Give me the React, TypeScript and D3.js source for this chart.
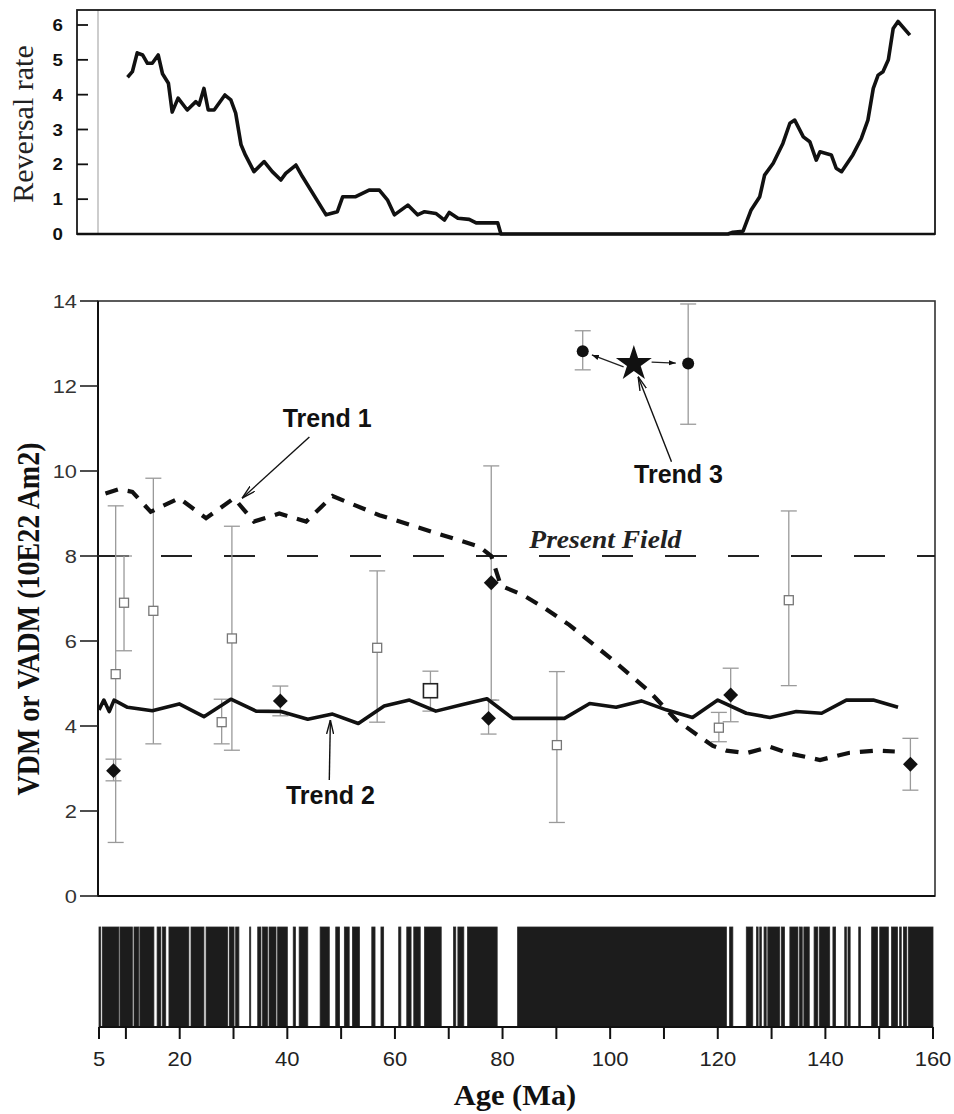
import React from 'react'
import * as d3 from 'd3'

// reversal rate (top panel)
const rateAge = [10.3, 11.2, 12.1, 13.1, 14.0, 14.9, 16.0, 16.8, 17.9, 18.6, 19.7, 21.4, 23.0, 23.6, 24.5, 25.3, 26.4, 28.4, 29.5, 30.4, 31.4, 32.2, 33.8, 35.7, 37.2, 38.8, 39.7, 41.6, 42.8, 47.2, 49.3, 50.3, 52.7, 55.2, 57.1, 58.6, 59.9, 62.4, 64.2, 65.5, 67.6, 69.2, 70.1, 71.7, 73.8, 75.1, 79.1, 79.7, 121.9, 122.8, 124.7, 126.2, 127.8, 128.7, 130.3, 132.1, 133.4, 134.3, 135.9, 137.1, 138.3, 139.0, 141.1, 142.0, 143.0, 145.1, 146.7, 147.9, 148.9, 149.8, 150.7, 151.7, 152.6, 153.5, 155.7]
const rateValue = [4.5, 4.66, 5.2, 5.14, 4.9, 4.9, 5.14, 4.6, 4.33, 3.5, 3.9, 3.56, 3.8, 3.7, 4.18, 3.56, 3.56, 3.99, 3.85, 3.47, 2.56, 2.27, 1.79, 2.08, 1.79, 1.55, 1.74, 1.98, 1.65, 0.55, 0.64, 1.07, 1.07, 1.26, 1.26, 0.98, 0.55, 0.83, 0.55, 0.64, 0.59, 0.4, 0.62, 0.45, 0.42, 0.32, 0.32, 0, 0, 0.05, 0.08, 0.69, 1.07, 1.69, 2.03, 2.6, 3.18, 3.27, 2.79, 2.65, 2.12, 2.36, 2.27, 1.89, 1.79, 2.27, 2.75, 3.27, 4.18, 4.56, 4.66, 5.0, 5.9, 6.1, 5.71]
const rateTicks = [0, 1, 2, 3, 4, 5, 6]

// trend 1 (dashed) and trend 2 (solid)
const trend1Age = [6.2, 8.7, 11.2, 14.6, 19.9, 24.9, 30.1, 33.8, 38.5, 43.5, 48.4, 57.1, 68.9, 75.7, 77.9, 79.7, 83.8, 87.5, 92.4, 100.5, 107.3, 112.3, 119.1, 121.6, 125.3, 129.7, 133.1, 139.0, 144.5, 149.5, 152.9]
const trend1Value = [9.47, 9.57, 9.51, 9.04, 9.36, 8.89, 9.36, 8.81, 9.0, 8.81, 9.41, 8.96, 8.49, 8.22, 8.0, 7.3, 7.08, 6.8, 6.38, 5.55, 4.81, 4.14, 3.53, 3.42, 3.36, 3.51, 3.36, 3.2, 3.37, 3.42, 3.4]
const trend2Age = [5.0, 5.9, 6.9, 7.8, 10.3, 14.9, 19.9, 24.5, 29.5, 34.2, 38.8, 43.8, 48.4, 53.2, 58.0, 62.7, 67.6, 72.4, 77.1, 81.9, 91.5, 96.2, 101.1, 105.8, 110.4, 115.3, 120.0, 125.3, 129.7, 134.6, 139.3, 143.9, 148.9, 153.5]
const trend2Value = [4.38, 4.61, 4.34, 4.61, 4.44, 4.36, 4.52, 4.22, 4.63, 4.35, 4.34, 4.16, 4.28, 4.06, 4.47, 4.61, 4.35, 4.5, 4.64, 4.18, 4.18, 4.53, 4.44, 4.59, 4.38, 4.2, 4.61, 4.3, 4.2, 4.34, 4.3, 4.61, 4.61, 4.44]

// open squares (gray)
const sqAge = [8.1, 9.65, 15.1, 27.8, 29.7, 56.7, 90.1, 120.2, 133.2]
const sqValue = [5.22, 6.9, 6.71, 4.09, 6.06, 5.84, 3.55, 3.96, 6.96]
const sqLow = [1.26, 5.77, 3.58, 3.58, 3.43, 4.09, 1.73, 3.63, 4.95]
const sqHigh = [9.18, 8.0, 9.83, 4.63, 8.7, 7.65, 5.28, 4.32, 9.06]

// filled diamonds
const dmAge = [7.7, 38.7, 77.4, 77.9, 122.4, 155.8]
const dmValue = [2.95, 4.59, 4.18, 7.37, 4.73, 3.1]
const dmLow = [2.71, 4.24, 3.81, 4.61, 4.1, 2.49]
const dmHigh = [3.22, 4.94, 4.61, 10.12, 5.36, 3.71]

// big open square
const bigSqAge = [66.6]
const bigSqValue = [4.83]
const bigSqLow = [4.35]
const bigSqHigh = [5.29]

// trend 3
const circAge = [94.9, 114.5]
const circValue = [12.82, 12.53]
const circLow = [12.38, 11.1]
const circHigh = [13.3, 13.93]
const starAge = 104.4
const starValue = 12.57

const presentField = 8
const vdmTicks = [0, 2, 4, 6, 8, 10, 12, 14]
const ageTicks = [5, 10, 20, 30, 40, 50, 60, 70, 80, 90, 100, 110, 120, 130, 140, 150, 160]
const ageLabels = [5, 20, 40, 60, 80, 100, 120, 140, 160]

// normal polarity intervals (Ma)
const normalStart = [5.0, 5.6, 8.9, 11.5, 12.6, 15.8, 16.8, 18.0, 22.1, 24.9, 29.2, 30.4, 33.0, 34.5, 35.4, 36.6, 38.2, 41.1, 42.2, 46.1, 49.0, 50.6, 52.1, 55.7, 57.4, 60.7, 62.2, 63.5, 65.5, 70.9, 71.7, 73.5, 82.8, 122.2, 125.3, 127.2, 127.8, 128.6, 129.3, 131.8, 133.4, 135.2, 136.0, 137.9, 138.9, 141.4, 143.6, 144.2, 146.2, 148.6, 150.1, 152.3, 153.8, 154.5, 155.4]
const normalEnd = [5.3, 8.7, 11.2, 12.4, 15.2, 16.5, 17.4, 21.7, 24.5, 28.9, 30.1, 31.0, 33.2, 35.1, 36.3, 37.9, 40.0, 41.5, 43.8, 47.8, 49.7, 51.5, 53.4, 56.3, 57.9, 61.1, 63.0, 64.7, 68.6, 71.3, 72.8, 79.0, 121.6, 122.8, 126.5, 127.5, 128.1, 129.0, 131.5, 132.4, 134.9, 135.7, 137.0, 138.6, 140.8, 141.9, 143.9, 144.6, 146.5, 149.7, 151.7, 153.4, 154.1, 155.1, 160.0]

// annotation arrows, in data units [age, value]
const trendLabels = ['Trend 1', 'Trend 2', 'Trend 3']
const trendLabelPos = [[47.4, 11.04], [48.0, 2.16], [112.7, 9.72]]
const trendArrowFrom = [[44.1, 10.8], [47.8, 2.73], [111.4, 10.22]]
const trendArrowTo = [[31.6, 9.36], [48.0, 4.14], [105.2, 12.22]]
const starArrowFrom = [[102.5, 12.45], [107.7, 12.56]]
const starArrowTo = [[96.6, 12.73], [112.2, 12.54]]

const SANS = '"Liberation Sans", Arial, sans-serif'
const SERIF = '"Liberation Serif", "Times New Roman", serif'

function T({ x, y, sx = 1, rot = 0, children, ...rest }: any) {
  return (
    <text transform={`translate(${x},${y}) scale(${sx},1) rotate(${rot})`} {...rest}>
      {children}
    </text>
  )
}

export default function App() {
  const x = d3.scaleLinear().domain([5, 160]).range([99, 933])
  const y = d3.scaleLinear().domain([0, 14]).range([896, 301])
  const yr = d3.scaleLinear().domain([0, 6]).range([234, 25])

  const rateLine = d3.line<number>().x((_, i) => x(rateAge[i])).y((d) => yr(d))
  const t1Line = d3.line<number>().x((_, i) => x(trend1Age[i])).y((d) => y(d))
  const t2Line = d3.line<number>().x((_, i) => x(trend2Age[i])).y((d) => y(d))

  const diamond = d3.symbol().type(d3.symbolSquare).size(110)()
  const star = d3.symbol().type(d3.symbolStar).size(400)()

  const errBar = (a: number, lo: number, hi: number, key: string, cap = 8) => (
    <g key={key} stroke="#9a9a9a" strokeWidth={1.3}>
      <line x1={x(a)} x2={x(a)} y1={y(hi)} y2={y(lo)} />
      <line x1={x(a) - cap} x2={x(a) + cap} y1={y(hi)} y2={y(hi)} />
      <line x1={x(a) - cap} x2={x(a) + cap} y1={y(lo)} y2={y(lo)} />
    </g>
  )

  return (
    <svg width={954} height={1114} style={{ position: 'absolute', left: 0, top: 0, background: '#fff' }}>
      <defs>
        <marker id="vhead" viewBox="0 0 14 8" refX={14} refY={4} markerWidth={14} markerHeight={8}
          orient="auto" markerUnits="userSpaceOnUse">
          <path d="M0,0.5 L14,4 L0,7.5" fill="none" stroke="#111" strokeWidth={1.4} />
        </marker>
        <marker id="shead" viewBox="0 0 8 6" refX={8} refY={3} markerWidth={7} markerHeight={6}
          orient="auto" markerUnits="userSpaceOnUse">
          <path d="M0,0 L8,3 L0,6 Z" fill="#111" />
        </marker>
      </defs>

      {/* ---------- top panel: reversal rate ---------- */}
      <line x1={98} x2={98} y1={10} y2={234} stroke="#bdbdbd" strokeWidth={1.5} />
      <rect x={77} y={10} width={858} height={224} fill="none" stroke="#1a1a1a" strokeWidth={1.8} />
      <line x1={77} x2={935} y1={234} y2={234} stroke="#111" strokeWidth={2.5} />
      {rateTicks.map((t) => (
        <g key={'rt' + t}>
          <line x1={77} x2={88} y1={yr(t)} y2={yr(t)} stroke="#111" strokeWidth={1.8} />
          <T x={63} y={yr(t)} sx={1.1} dy="0.36em" textAnchor="end" fontFamily={SANS} fontWeight="bold"
            fontSize={17} fill="#111">{t}</T>
        </g>
      ))}
      <path d={rateLine(rateValue) || ''} fill="none" stroke="#111" strokeWidth={3.6} strokeLinejoin="round" />
      <T x={33} y={124} rot={-90} textAnchor="middle" fontFamily={SERIF} fontSize={30} fill="#222">Reversal rate</T>

      {/* ---------- main panel ---------- */}
      <rect x={98} y={301} width={837} height={595} fill="none" stroke="#333" strokeWidth={1.6} />
      <line x1={98} x2={98} y1={301} y2={896} stroke="#111" strokeWidth={2} />
      <line x1={98} x2={935} y1={896} y2={896} stroke="#111" strokeWidth={2} />
      {vdmTicks.map((t) => (
        <g key={'vt' + t}>
          <line x1={80} x2={98} y1={y(t)} y2={y(t)} stroke="#222" strokeWidth={1.6} />
          <T x={77} y={y(t)} sx={1.15} dy="0.36em" textAnchor="end" fontFamily={SANS} fontSize={19} fill="#333">{t}</T>
        </g>
      ))}
      <T x={39} y={619} sx={1.12} rot={-90} textAnchor="middle" fontFamily={SERIF} fontWeight="bold"
        fontSize={28} fill="#111">VDM or VADM (10E22 Am2)</T>

      {/* present field */}
      <line x1={98} x2={935} y1={y(presentField)} y2={y(presentField)} stroke="#222" strokeWidth={2}
        strokeDasharray="31 32" />
      <T x={x(99.1)} y={y(8.19)} sx={1.1} textAnchor="middle" fontFamily={SERIF} fontWeight="bold"
        fontStyle="italic" fontSize={25} fill="#222">Present Field</T>

      {/* error bars */}
      {sqAge.map((a, i) => errBar(a, sqLow[i], sqHigh[i], 'se' + i))}
      {dmAge.map((a, i) => errBar(a, dmLow[i], dmHigh[i], 'de' + i))}
      {bigSqAge.map((a, i) => errBar(a, bigSqLow[i], bigSqHigh[i], 'be' + i))}
      {circAge.map((a, i) => errBar(a, circLow[i], circHigh[i], 'ce' + i))}

      {/* trends */}
      <path d={t1Line(trend1Value) || ''} fill="none" stroke="#111" strokeWidth={4.2} strokeDasharray="13 10" />
      <path d={t2Line(trend2Value) || ''} fill="none" stroke="#111" strokeWidth={3.6} strokeLinejoin="round" />

      {/* markers */}
      {sqAge.map((a, i) => (
        <rect key={'sq' + i} x={x(a) - 4.5} y={y(sqValue[i]) - 4.5} width={9} height={9}
          fill="#fff" stroke="#777" strokeWidth={1.3} />
      ))}
      {bigSqAge.map((a, i) => (
        <rect key={'bs' + i} x={x(a) - 7} y={y(bigSqValue[i]) - 7} width={14} height={14}
          fill="#fff" stroke="#222" strokeWidth={1.6} />
      ))}
      {dmAge.map((a, i) => (
        <path key={'dm' + i} d={diamond || ''} transform={`translate(${x(a)},${y(dmValue[i])}) rotate(45)`} fill="#111" />
      ))}
      {circAge.map((a, i) => (
        <circle key={'c' + i} cx={x(a)} cy={y(circValue[i])} r={6} fill="#111" />
      ))}
      <path d={star || ''} transform={`translate(${x(starAge)},${y(starValue) + 2})`} fill="#111" />
      {starArrowFrom.map((f, i) => (
        <line key={'sa' + i} x1={x(f[0])} y1={y(f[1])} x2={x(starArrowTo[i][0])} y2={y(starArrowTo[i][1])}
          stroke="#222" strokeWidth={1.3} markerEnd="url(#shead)" />
      ))}

      {/* trend annotations */}
      {trendLabels.map((lab, i) => (
        <g key={'tl' + i}>
          <line x1={x(trendArrowFrom[i][0])} y1={y(trendArrowFrom[i][1])} x2={x(trendArrowTo[i][0])}
            y2={y(trendArrowTo[i][1])} stroke="#111" strokeWidth={1.4} markerEnd="url(#vhead)" />
          <T x={x(trendLabelPos[i][0])} y={y(trendLabelPos[i][1])} textAnchor="middle" fontFamily={SANS}
            fontWeight="bold" fontSize={25} fill="#111">{lab}</T>
        </g>
      ))}

      {/* ---------- polarity bar and age axis ---------- */}
      {normalStart.map((s, i) => (
        <rect key={'p' + i} x={x(s)} y={927} width={Math.max(1, x(normalEnd[i]) - x(s))} height={100}
          fill="#1c1c1c" stroke="#2a2a2a" strokeWidth={0.8} />
      ))}
      <line x1={x(5)} x2={x(160)} y1={1027} y2={1027} stroke="#111" strokeWidth={2} />
      {ageTicks.map((t) => (
        <line key={'at' + t} x1={x(t)} x2={x(t)} y1={1027} y2={1039} stroke="#111" strokeWidth={2} />
      ))}
      {ageLabels.map((t) => (
        <T key={'al' + t} x={x(t)} y={1066} sx={1.1} textAnchor="middle" fontFamily={SANS} fontSize={20}
          fill="#222">{t}</T>
      ))}
      <T x={515} y={1105} sx={1.05} textAnchor="middle" fontFamily={SERIF} fontWeight="bold" fontSize={29}
        fill="#111">Age (Ma)</T>
    </svg>
  )
}
